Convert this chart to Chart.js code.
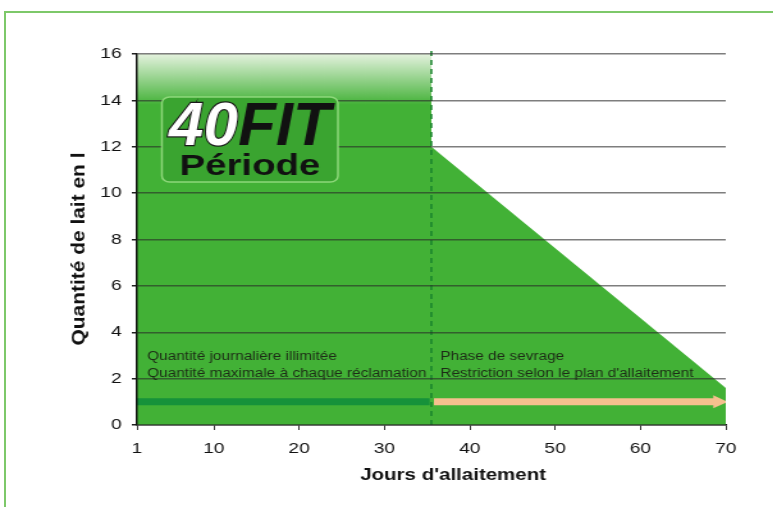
<!DOCTYPE html>
<html>
<head>
<meta charset="utf-8">
<script src="https://cdn.jsdelivr.net/npm/chart.js@4.4.1/dist/chart.umd.min.js"></script>
<style>
  html, body { margin: 0; padding: 0; background: #fff; }
  #page { position: relative; width: 773px; height: 507px; overflow: hidden; }
  #frame { position: absolute; left: 4px; top: 11px; width: 780px; height: 510px;
           border-left: 2px solid #7dc869; border-top: 2px solid #7dc869; }
  /* the reference picture is stretched sideways, so the chart is too */
  #stretch { position: absolute; left: 0; top: 0; transform: scaleX(1.28); transform-origin: 0 0; }
</style>
</head>
<body>
<div id="page">
  <div id="frame"></div>
  <div id="stretch"><canvas id="milkChart" width="604" height="507"></canvas></div>
</div>
<script>
// Data
const days = [1, 35.5, 35.5, 70];
const milkLitres = [16, 16, 12, 1.6];
const dayTicks = [1, 10, 20, 30, 40, 50, 60, 70];
const litreTicks = [0, 2, 4, 6, 8, 10, 12, 14, 16];
const weaningDay = 35.5;
const arrowLevel = 1;
const freePhaseDays = [1, 35.3];
const weaningPhaseDays = [35.8, 69.1];
const freePhaseText = ['Quantité journalière illimitée', 'Quantité maximale à chaque réclamation'];
const weaningPhaseText = ['Phase de sevrage', "Restriction selon le plan d'allaitement"];
const xTitle = "Jours d'allaitement";
const yTitle = 'Quantité de lait en l';

const FONT = "'Liberation Sans', Arial, sans-serif";
const GREEN = 'rgb(66,177,54)';
const DARK_GREEN = 'rgb(22,146,58)';
const PEACH = 'rgb(246,192,142)';

// Green area fades to white near the top
function areaFill(context) {
    const chart = context.chart;
    if (!chart.chartArea) return GREEN;
    const y = chart.scales.y;
    const g = chart.ctx.createLinearGradient(0, y.getPixelForValue(16), 0, y.getPixelForValue(13.8));
    g.addColorStop(0, 'rgb(228,242,222)');
    g.addColorStop(1, GREEN);
    return g;
}

// Captions, logo and axis titles
const decorations = {
    id: 'decorations',
    afterDraw(chart) {
        const { ctx, chartArea: area, scales: { x, y } } = chart;
        ctx.save();

        // Phase captions
        ctx.fillStyle = '#1d2b16';
        ctx.font = `12px ${FONT}`;
        ctx.textAlign = 'left';
        ctx.textBaseline = 'alphabetic';
        const base = y.getPixelForValue(2);
        [[x.getPixelForValue(days[0]) + 8, freePhaseText],
         [x.getPixelForValue(weaningDay) + 7, weaningPhaseText]].forEach(([left, lines]) => {
            ctx.fillText(lines[0], left, base - 19);
            ctx.fillText(lines[1], left, base - 2);
        });

        // 40FIT Période badge
        const bx = area.left + 19.5, by = area.top + 43, bw = 137.5, bh = 85;
        ctx.beginPath();
        ctx.roundRect(bx, by, bw, bh, 6);
        ctx.fillStyle = 'rgb(58,164,48)';
        ctx.fill();
        ctx.lineWidth = 1.5;
        ctx.strokeStyle = 'rgba(150,220,130,0.9)';
        ctx.stroke();

        ctx.save();
        ctx.translate(bx + bw / 2, by + 48);
        ctx.scale(0.78, 1);
        ctx.font = `italic bold 62px ${FONT}`;
        const w40 = ctx.measureText('40').width;
        const wFit = ctx.measureText('FIT').width;
        const start = -(w40 + wFit) / 2;
        ctx.lineWidth = 2.5;
        ctx.strokeStyle = '#1a1a1a';
        ctx.strokeText('40', start, 0);
        ctx.fillStyle = '#fff';
        ctx.fillText('40', start, 0);
        ctx.fillStyle = '#111';
        ctx.fillText('FIT', start + w40, 0);
        ctx.restore();

        ctx.font = `bold 30px ${FONT}`;
        ctx.textAlign = 'center';
        ctx.fillStyle = '#111';
        ctx.fillText('Période', bx + bw / 2, by + 78);

        // Axis titles
        ctx.font = `bold 16px ${FONT}`;
        ctx.textBaseline = 'middle';
        ctx.fillText(xTitle, 354, 476);

        ctx.save();
        ctx.translate(62.5, 249);
        ctx.rotate(-Math.PI / 2);
        ctx.font = `bold 14px ${FONT}`;
        const tw = ctx.measureText(yTitle).width;
        ctx.scale(193 / tw, 1);
        ctx.fillText(yTitle, 0, 0);
        ctx.restore();

        ctx.restore();
    }
};

const ctx = document.getElementById('milkChart').getContext('2d');
new Chart(ctx, {
    type: 'line',
    data: {
        datasets: [
            {
                // milk quantity area, drawn underneath the rest
                order: 10,
                data: days.map((d, i) => ({ x: d, y: milkLitres[i] })),
                fill: 'origin',
                backgroundColor: areaFill,
                borderColor: 'transparent',
                borderWidth: 0,
                pointRadius: 0,
                tension: 0
            },
            {
                // start of weaning
                order: 3,
                data: [{ x: weaningDay, y: 0 }, { x: weaningDay, y: 16.3 }],
                borderColor: 'rgb(25,130,45)',
                borderWidth: 1.5,
                borderDash: [5, 4],
                pointRadius: 0,
                fill: false,
                clip: false
            },
            {
                order: 2,
                data: freePhaseDays.map(d => ({ x: d, y: arrowLevel })),
                borderColor: DARK_GREEN,
                borderWidth: 7,
                borderCapStyle: 'butt',
                pointRadius: 0,
                fill: false
            },
            {
                order: 1,
                data: weaningPhaseDays.map(d => ({ x: d, y: arrowLevel })),
                borderColor: PEACH,
                borderWidth: 7,
                borderCapStyle: 'butt',
                pointRadius: [0, 7.5],
                pointStyle: 'triangle',
                pointRotation: 90,
                pointBackgroundColor: PEACH,
                pointBorderWidth: 0,
                pointBorderColor: PEACH,
                fill: false
            }
        ]
    },
    options: {
        responsive: false,
        devicePixelRatio: 1,
        animation: false,
        events: [],
        layout: { padding: { left: 0, top: 54, right: 37, bottom: 0 } },
        plugins: {
            legend: { display: false },
            tooltip: { enabled: false }
        },
        scales: {
            x: {
                type: 'linear',
                min: 1,
                max: 70,
                afterBuildTicks: s => { s.ticks = dayTicks.map(v => ({ value: v })); },
                afterFit: s => { s.height = 507 - 425; },
                grid: { drawOnChartArea: false, tickLength: 5, tickColor: '#333', lineWidth: 1 },
                border: { color: '#111', width: 1.5 },
                ticks: { font: { family: FONT, size: 15 }, color: '#111', padding: 10, autoSkip: false, maxRotation: 0 }
            },
            y: {
                min: 0,
                max: 16,
                afterBuildTicks: s => { s.ticks = litreTicks.map(v => ({ value: v })); },
                afterFit: s => { s.width = 107; },
                grid: { z: 1, color: 'rgba(40,40,40,0.6)', lineWidth: 1.5, tickLength: 4, tickColor: '#222' },
                border: { z: 2, color: '#111', width: 1.5 },
                ticks: { font: { family: FONT, size: 15 }, color: '#111', padding: 8 }
            }
        }
    },
    plugins: [decorations]
});
</script>
</body>
</html>
